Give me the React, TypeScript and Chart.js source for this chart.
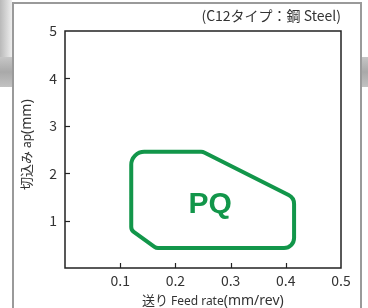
import React, { useEffect, useRef } from "react";
import { Chart, registerables } from "chart.js";

Chart.register(...registerables);

// ---- data ----
const feedRate = [0.12, 0.25, 0.415, 0.415, 0.165, 0.12]; // mm/rev (polygon vertices)
const depthOfCut = [2.45, 2.45, 1.48, 0.42, 0.42, 0.8]; // mm
const regionLabel = "PQ";
const regionLabelAt = [0.263, 1.36];
const xTickValues = [0, 0.1, 0.2, 0.3, 0.4, 0.5];
const xTickLabels = ["", "0.1", "0.2", "0.3", "0.4", "0.5"];
const yTickValues = [0, 1, 2, 3, 4, 5];
const yTickLabels = ["", "1", "2", "3", "4", "5"];
const chartTitle = "(C12タイプ：鋼 Steel)";
const xTitleParts = ["送り ", "Feed rate", "(mm/rev)"];
const yTitleParts = ["切込み ", "ap", "(mm)"];

// ---- style ----
const GREEN = "#12964a";
const TEXT = "#333333";
const FONT = "'Noto Sans CJK JP', 'Noto Sans', sans-serif";
const LATIN = "'Noto Sans', 'Noto Sans CJK JP', sans-serif";
const cornerRadii = [13, 8, 10, 10, 6, 6];
const titleSizes = [13, 12, 14];
const titleFonts = [FONT, LATIN, LATIN];

function roundedPoly(ctx: CanvasRenderingContext2D, pts: { x: number; y: number }[], radii: number[]) {
  const n = pts.length;
  const a = pts[n - 1];
  const b = pts[0];
  ctx.beginPath();
  ctx.moveTo((a.x + b.x) / 2, (a.y + b.y) / 2);
  for (let i = 0; i < n; i++) {
    const p = pts[i];
    const q = pts[(i + 1) % n];
    ctx.arcTo(p.x, p.y, q.x, q.y, radii[i]);
  }
  ctx.closePath();
}

const drawPlugin = {
  id: "drawExtras",
  afterDatasetsDraw(chart: any) {
    const ctx: CanvasRenderingContext2D = chart.ctx;
    const ca = chart.chartArea;
    const xs = chart.scales.x;
    const ys = chart.scales.y;
    ctx.save();

    // frame
    ctx.strokeStyle = "#222";
    ctx.lineWidth = 1.5;
    ctx.strokeRect(ca.left, ca.top, ca.right - ca.left, ca.bottom - ca.top);

    // inward ticks
    ctx.lineWidth = 1.2;
    xTickValues.forEach((v) => {
      const px = Math.round(xs.getPixelForValue(v)) + 0.5;
      if (v <= 0 || v >= 0.5) return;
      ctx.beginPath();
      ctx.moveTo(px, ca.bottom);
      ctx.lineTo(px, ca.bottom - 5);
      ctx.stroke();
    });
    yTickValues.forEach((v) => {
      const py = Math.round(ys.getPixelForValue(v)) + 0.5;
      if (v <= 0 || v >= 5) return;
      ctx.beginPath();
      ctx.moveTo(ca.left, py);
      ctx.lineTo(ca.left + 5, py);
      ctx.stroke();
    });

    // region polygon
    const meta = chart.getDatasetMeta(0);
    const pts = meta.data.map((el: any) => ({ x: el.x, y: el.y }));
    roundedPoly(ctx, pts, cornerRadii);
    ctx.strokeStyle = GREEN;
    ctx.lineWidth = 4;
    ctx.lineJoin = "round";
    ctx.stroke();

    // region label
    ctx.fillStyle = GREEN;
    ctx.font = "bold 30px 'Liberation Sans', Arial, sans-serif";
    ctx.textAlign = "center";
    ctx.textBaseline = "middle";
    ctx.fillText(regionLabel, xs.getPixelForValue(regionLabelAt[0]), ys.getPixelForValue(regionLabelAt[1]) + 1);

    // title
    ctx.fillStyle = TEXT;
    ctx.font = `14px ${FONT}`;
    ctx.textAlign = "right";
    ctx.textBaseline = "middle";
    ctx.fillText(chartTitle, ca.right, 16);

    // x axis title (mixed sizes)
    ctx.textAlign = "left";
    ctx.textBaseline = "alphabetic";
    let x = 142;
    xTitleParts.forEach((t, i) => {
      ctx.font = `${titleSizes[i]}px ${titleFonts[i]}`;
      ctx.fillText(t, x, 304.5);
      x += ctx.measureText(t).width;
    });

    // y axis title (rotated)
    ctx.translate(31, 190);
    ctx.rotate(-Math.PI / 2);
    let yx = 0;
    yTitleParts.forEach((t, i) => {
      ctx.font = `${titleSizes[i]}px ${titleFonts[i]}`;
      ctx.fillText(t, yx, 0);
      yx += ctx.measureText(t).width;
    });

    ctx.restore();
  },
};

export default function App() {
  const ref = useRef<HTMLCanvasElement | null>(null);

  useEffect(() => {
    document.body.style.margin = "0";
    const canvas = ref.current;
    if (!canvas) return;
    const chart = new Chart(canvas, {
      type: "scatter",
      data: {
        datasets: [
          {
            data: feedRate.map((x, i) => ({ x, y: depthOfCut[i] })),
            pointRadius: 0,
            showLine: false,
          },
        ],
      },
      options: {
        responsive: false,
        animation: false,
        devicePixelRatio: 1,
        layout: { padding: { top: 31, right: 27, left: 0, bottom: 0 } },
        plugins: { legend: { display: false }, tooltip: { enabled: false } },
        scales: {
          x: {
            type: "linear",
            min: 0,
            max: 0.5,
            afterBuildTicks: (s: any) => {
              s.ticks = xTickValues.map((v) => ({ value: v }));
            },
            afterFit: (s: any) => {
              s.height = 40;
            },
            ticks: {
              callback: (_v: any, i: number) => xTickLabels[i],
              font: { size: 14, family: FONT },
              color: TEXT,
              padding: 4,
              maxRotation: 0,
              autoSkip: false,
            },
            grid: { display: false, drawTicks: false },
            border: { display: false },
          },
          y: {
            type: "linear",
            min: 0,
            max: 5,
            afterBuildTicks: (s: any) => {
              s.ticks = yTickValues.map((v) => ({ value: v }));
            },
            afterFit: (s: any) => {
              s.width = 65;
            },
            ticks: {
              callback: (_v: any, i: number) => yTickLabels[i],
              font: { size: 14, family: FONT },
              color: TEXT,
              padding: 8,
              autoSkip: false,
            },
            grid: { display: false, drawTicks: false },
            border: { display: false },
          },
        },
      },
      plugins: [drawPlugin],
    } as any);
    return () => chart.destroy();
  }, []);

  return (
    <div style={{ position: "relative", width: 368, height: 308, overflow: "hidden", background: "#fff" }}>
      <div style={{ position: "absolute", left: 0, top: 0, width: 12, height: 57, background: "linear-gradient(to right, #b9b9b9, #eeeeee)" }} />
      <div style={{ position: "absolute", left: 0, top: 57, width: 12, height: 30, background: "linear-gradient(#c6c6c6, #a9a9a9 50%, #c2c2c2)" }} />
      <div style={{ position: "absolute", left: 362, top: 57, width: 6, height: 30, background: "linear-gradient(#c6c6c6, #a9a9a9 50%, #c2c2c2)" }} />
      <div
        style={{
          position: "absolute",
          left: 12,
          top: 2,
          width: 350,
          height: 330,
          boxSizing: "border-box",
          border: "2px solid #9a9a9a",
          background: "#fff",
        }}
      />
      <canvas ref={ref} width={368} height={308} style={{ position: "absolute", left: 0, top: 0 }} />
    </div>
  );
}
